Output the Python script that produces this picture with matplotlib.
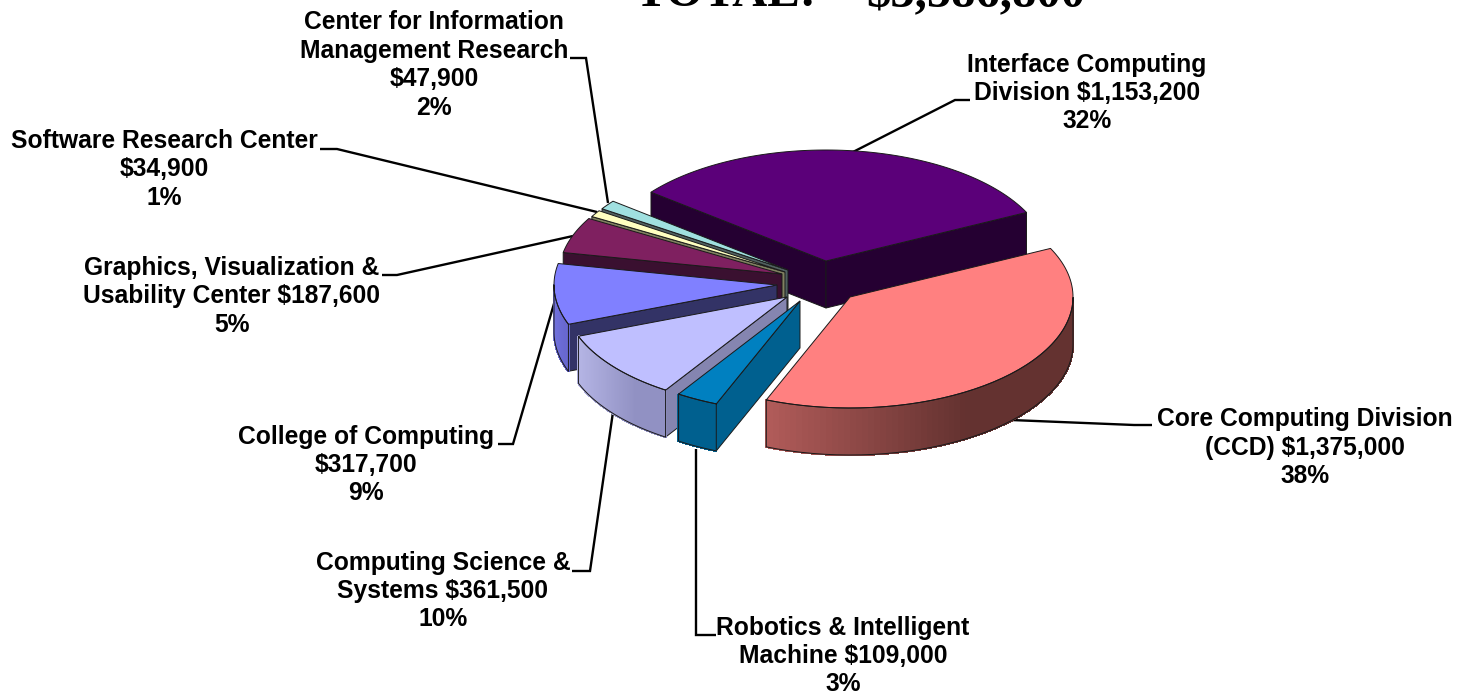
# Budget pie, drawn by hand since matplotlib has no exploded 3D pie

import numpy as np
from matplotlib import pyplot as plt
from matplotlib.patches import Polygon

divisions = ['Interface Computing', 'Core Computing Division', 'Robotics & Intelligent',
             'Computing Science &', 'College of Computing', 'Graphics, Visualization &',
             'Software Research Center', 'Center for Information']
budgets = [1153200, 1375000, 109000, 361500, 317700, 187600, 34900, 47900]
percents = [32, 38, 3, 10, 9, 5, 1, 2]

labelFormats = ['{name}\nDivision {money}\n{pct}%',
                '{name}\n(CCD) {money}\n{pct}%',
                '{name}\nMachine {money}\n{pct}%',
                '{name}\nSystems {money}\n{pct}%',
                '{name}\n{money}\n{pct}%',
                '{name}\nUsability Center {money}\n{pct}%',
                '{name}\n{money}\n{pct}%',
                '{name}\nManagement Research\n{money}\n{pct}%']

# layout, in image pixels
radiusX = 223
radiusY = 111
depth = 47
startAngle = 141.7
apexes = [(826, 261), (850, 297), (800, 301), (787, 297),
          (777, 285), (782, 274), (785, 272), (788, 270)]
labelPositions = [(1087, 93), (1305, 447.5), (843, 656), (443, 591),
                  (366, 465), (232, 296.5), (164, 169.5), (434, 65)]
leaders = [[(970, 100), (955, 100), (851, 153)],
           [(1152, 425), (1134, 425), (1011, 420)],
           [(716, 635), (696, 635), (696, 449)],
           [(572, 571), (590, 571), (613, 412)],
           [(498, 444), (513, 444), (558, 290)],
           [(382, 275), (397, 275), (573, 236)],
           [(320, 149), (337, 149), (597, 212)],
           [(570, 58), (586, 58), (608, 203)]]

# top face, radial wall, rim at left, rim at right
topColors = ['#5B0079', '#FF8080', '#0080C0', '#BFBFFF', '#8080FF', '#7F2060', '#FFFFC0', '#A0E0E0']
wallColors = ['#250032', '#63302F', '#00608F', '#8585B0', '#333366', '#3A1030', '#808060', '#506060']
rimLeft = ['#250032', '#B25C5A', '#00608F', '#B4B4E4', '#7070DC', '#3A1030', '#808060', '#506060']
rimRight = ['#250032', '#643230', '#00608F', '#9191C3', '#6868D0', '#3A1030', '#808060', '#506060']
rimStops = [0, 0.65, 1]
edgeColor = '#1A1A1A'


def ellipsePoint(apex, angle):
    angle = np.radians(angle)
    return np.column_stack([apex[0] + radiusX * np.cos(angle), apex[1] - radiusY * np.sin(angle)])


def toRgb(color):
    return np.array([int(color[i:i + 2], 16) / 255 for i in (1, 3, 5)])


def drawWall(ax, apex, angle, color):
    corner = ellipsePoint(apex, angle)[0]
    pts = [apex, corner, (corner[0], corner[1] + depth), (apex[0], apex[1] + depth)]
    ax.add_patch(Polygon(pts, closed=True, fc=color, ec=edgeColor, lw=0.7))


def drawRim(ax, apex, angles, left, right):
    # only the part of the arc turned towards the viewer
    angles = angles[np.sin(np.radians(angles)) <= 0.001]
    if len(angles) < 2:
        return
    arc = ellipsePoint(apex, angles)
    xMin, xMax = arc[:, 0].min(), arc[:, 0].max()
    c1, c2 = toRgb(left), toRgb(right)
    for i in range(len(arc) - 1):
        frac = (arc[i, 0] - xMin) / (xMax - xMin)
        mix = np.interp(frac, rimStops, [0, 1, 1])
        color = c1 + (c2 - c1) * mix
        quad = [arc[i], arc[i + 1], arc[i + 1] + (0, depth), arc[i] + (0, depth)]
        # no antialiasing here, otherwise the quads show as stripes
        ax.add_patch(Polygon(quad, closed=True, fc=color, ec=color, lw=1, antialiased=False))
    outline = np.vstack([arc, (arc + (0, depth))[::-1], arc[:1]])
    ax.plot(outline[:, 0], outline[:, 1], color=edgeColor, lw=0.7, solid_joinstyle='round')


def main():
    fig = plt.figure(figsize=(14.58, 6.97), dpi=100)
    ax = fig.add_axes([0, 0, 1, 1])
    ax.set_xlim(0, 1458)
    ax.set_ylim(697, 0)
    ax.axis('off')

    for line in leaders:
        xs, ys = zip(*line)
        ax.plot(xs, ys, color='black', lw=1.7, solid_capstyle='butt', solid_joinstyle='miter', zorder=0.5)

    sweeps = 360 * np.array(budgets) / sum(budgets)
    ends = startAngle - np.cumsum(sweeps)
    starts = ends + sweeps

    # back to front: the list runs clockwise from the back, coral has to go last
    order = [0, 7, 6, 5, 4, 3, 2, 1]
    for i in order:
        angles = np.linspace(starts[i], ends[i], 90)
        apex = apexes[i]
        if np.cos(np.radians(starts[i])) < 0:
            drawWall(ax, apex, starts[i], wallColors[i])
        if np.cos(np.radians(ends[i])) > 0:
            drawWall(ax, apex, ends[i], wallColors[i])
        drawRim(ax, apex, angles, rimLeft[i], rimRight[i])
        top = np.vstack([[apex], ellipsePoint(apex, angles)])
        ax.add_patch(Polygon(top, closed=True, fc=topColors[i], ec=edgeColor, lw=0.7, zorder=1))

    for i in range(len(divisions)):
        text = labelFormats[i].format(name=divisions[i], money=f'${budgets[i]:,}', pct=percents[i])
        x, y = labelPositions[i]
        ax.text(x, y, text, ha='center', va='center', multialignment='center',
                family='Liberation Sans', weight='bold', fontsize=17.7, linespacing=1.236)

    # the title is cut by the top of the picture in the original too
    total = sum(budgets)
    ax.text(634, 6, 'TOTAL:', ha='left', va='baseline', family='Liberation Serif',
            weight='bold', fontsize=35)
    ax.text(866, 6, f'${total:,}', ha='left', va='baseline', family='Liberation Serif',
            weight='bold', fontsize=35)

    fig.savefig('out.png', dpi=100)


if __name__ == '__main__':
    main()
